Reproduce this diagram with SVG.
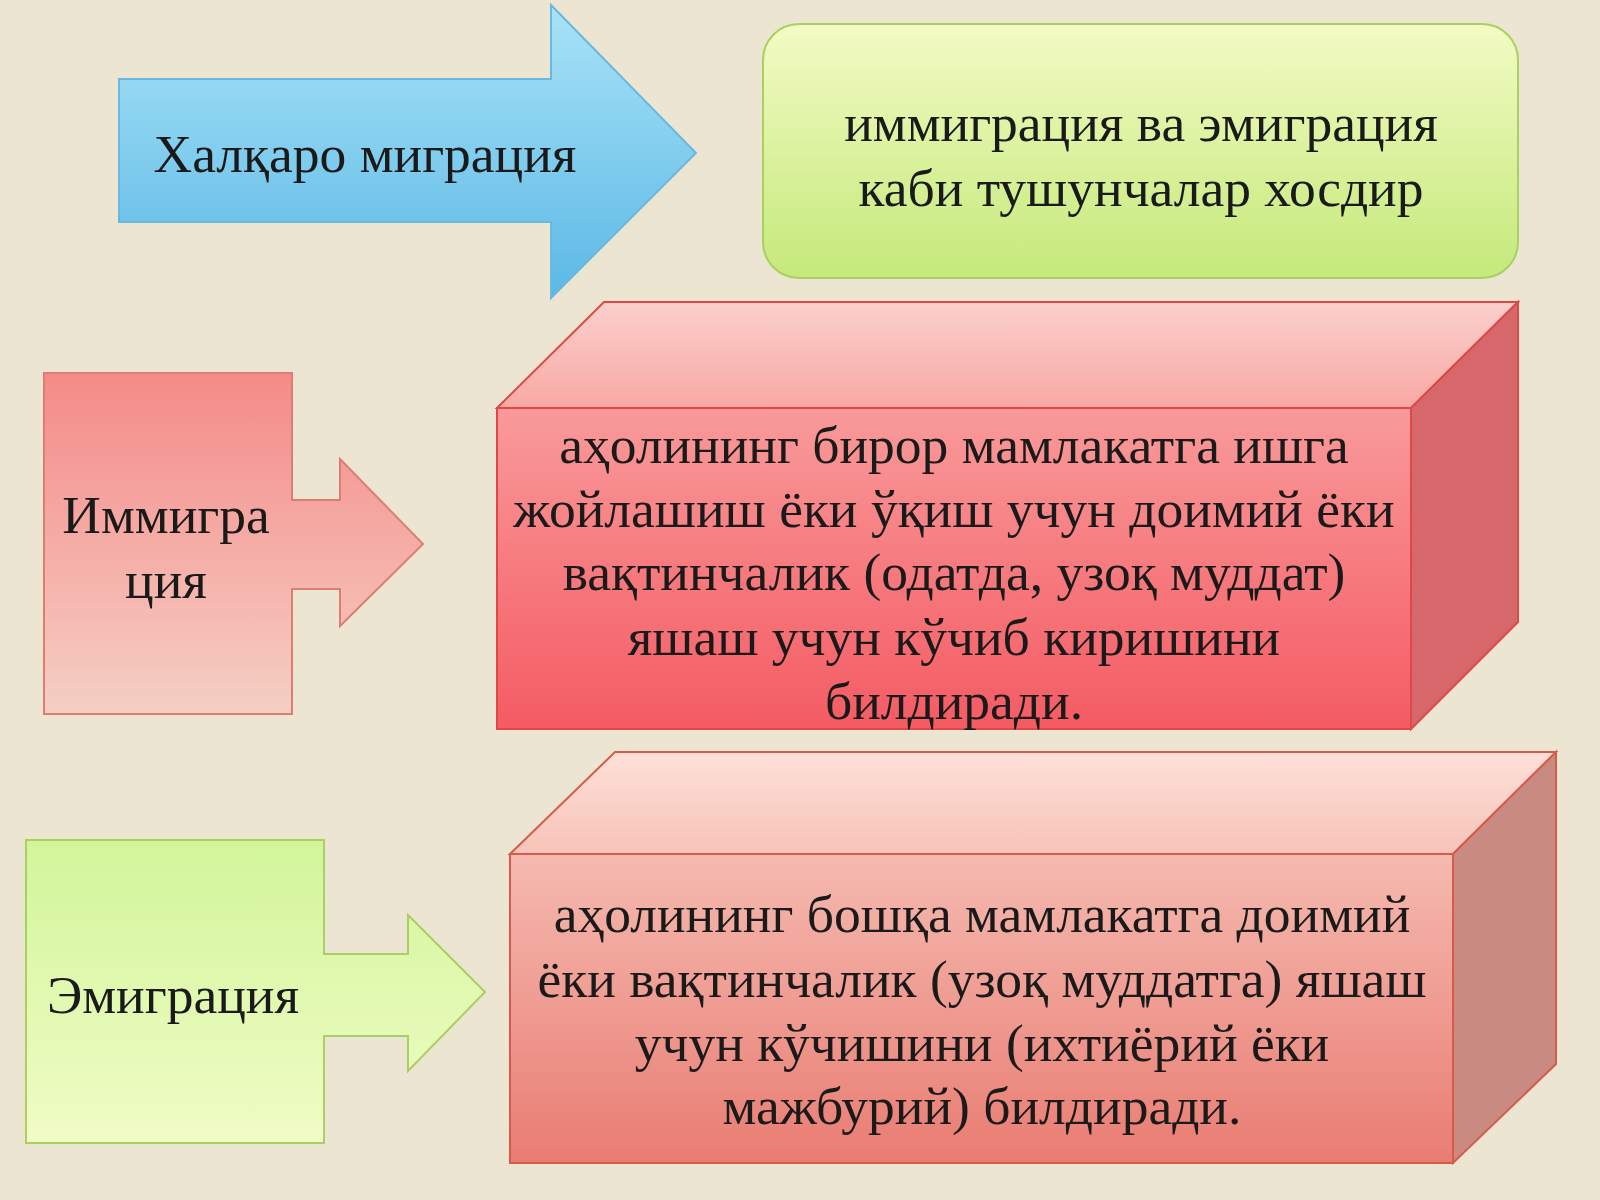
<svg xmlns="http://www.w3.org/2000/svg" width="1600" height="1200" viewBox="0 0 1600 1200">
<defs>
<linearGradient id="blue" x1="0" y1="0" x2="0" y2="1"><stop offset="0" stop-color="#a9e3f7"/><stop offset="1" stop-color="#5bb8e6"/></linearGradient>
<linearGradient id="green" x1="0" y1="0" x2="0" y2="1"><stop offset="0" stop-color="#f2fbc4"/><stop offset="1" stop-color="#c5e97a"/></linearGradient>
<linearGradient id="pink" x1="0" y1="0" x2="0" y2="1"><stop offset="0" stop-color="#f58a88"/><stop offset="1" stop-color="#f5cfc4"/></linearGradient>
<linearGradient id="lgreen" x1="0" y1="0" x2="0" y2="1"><stop offset="0" stop-color="#d2f59a"/><stop offset="1" stop-color="#f0fcc6"/></linearGradient>
<linearGradient id="redf" x1="0" y1="0" x2="0" y2="1"><stop offset="0" stop-color="#f99a9a"/><stop offset="1" stop-color="#f45b63"/></linearGradient>
<linearGradient id="redt" x1="0" y1="0" x2="0" y2="1"><stop offset="0" stop-color="#fbd0cc"/><stop offset="1" stop-color="#f8a8a4"/></linearGradient>
<linearGradient id="salf" x1="0" y1="0" x2="0" y2="1"><stop offset="0" stop-color="#f5bab0"/><stop offset="1" stop-color="#e97c72"/></linearGradient>
<linearGradient id="salt" x1="0" y1="0" x2="0" y2="1"><stop offset="0" stop-color="#fde0d8"/><stop offset="1" stop-color="#f7c3b8"/></linearGradient>
</defs>
<style>
text{font-family:"Liberation Serif","DejaVu Serif",serif;font-size:53.5px;fill:#1a1a1a;text-anchor:middle}
.sh{stroke-width:2}
</style>
<rect width="1600" height="1200" fill="#ece5d2"/>
<g id="node-halqaro">
<path d="M119,79 H551 V5 L696,153 L551,298 V222 H119 Z" fill="url(#blue)" stroke="#6ab8dd" class="sh"/>
<text x="365" y="172">Халқаро миграция</text>
</g>
<g id="node-halqaro-desc">
<rect x="763" y="24" width="755" height="254" rx="36" fill="url(#green)" stroke="#a9d060" class="sh"/>
<text x="1141" y="141">иммиграция ва эмиграция</text>
<text x="1141" y="206">каби тушунчалар хосдир</text>
</g>
<g id="node-immigr">
<path d="M44,373 H292 V500 H340 V459 L423,544 L340,626 V589 H292 V714 H44 Z" fill="url(#pink)" stroke="#e07d72" class="sh"/>
<text x="166" y="533">Иммигра</text>
<text x="166" y="598">ция</text>
</g>
<g id="node-immigr-desc">
<polygon points="497,408 604,302 1518,302 1411,408" fill="url(#redt)" stroke="#e04848" class="sh"/>
<polygon points="1411,408 1518,302 1518,622 1411,729" fill="#d6676b" stroke="#e04848" class="sh"/>
<rect x="497" y="408" width="914" height="321" fill="url(#redf)" stroke="#e04848" class="sh"/>
<text x="954" y="463">аҳолининг бирор мамлакатга ишга</text>
<text x="954" y="527">жойлашиш ёки ўқиш учун доимий ёки</text>
<text x="954" y="590">вақтинчалик (одатда, узоқ муддат)</text>
<text x="954" y="655">яшаш учун кўчиб киришини</text>
<text x="954" y="719">билдиради.</text>
</g>
<g id="node-emigr">
<path d="M26,840 H324 V954 H408 V915 L485,992 L408,1071 V1036 H324 V1143 H26 Z" fill="url(#lgreen)" stroke="#a9d060" class="sh"/>
<text x="173" y="1013">Эмиграция</text>
</g>
<g id="node-emigr-desc">
<polygon points="510,854 615,752 1556,752 1453,854" fill="url(#salt)" stroke="#d85a4a" class="sh"/>
<polygon points="1453,854 1556,752 1556,1064 1453,1163" fill="#c98a82" stroke="#d85a4a" class="sh"/>
<rect x="510" y="854" width="943" height="309" fill="url(#salf)" stroke="#d85a4a" class="sh"/>
<text x="982" y="932">аҳолининг бошқа мамлакатга доимий</text>
<text x="982" y="997">ёки вақтинчалик (узоқ муддатга) яшаш</text>
<text x="982" y="1061">учун кўчишини (ихтиёрий ёки</text>
<text x="982" y="1124">мажбурий) билдиради.</text>
</g>
<g id="connectors"></g>
</svg>
